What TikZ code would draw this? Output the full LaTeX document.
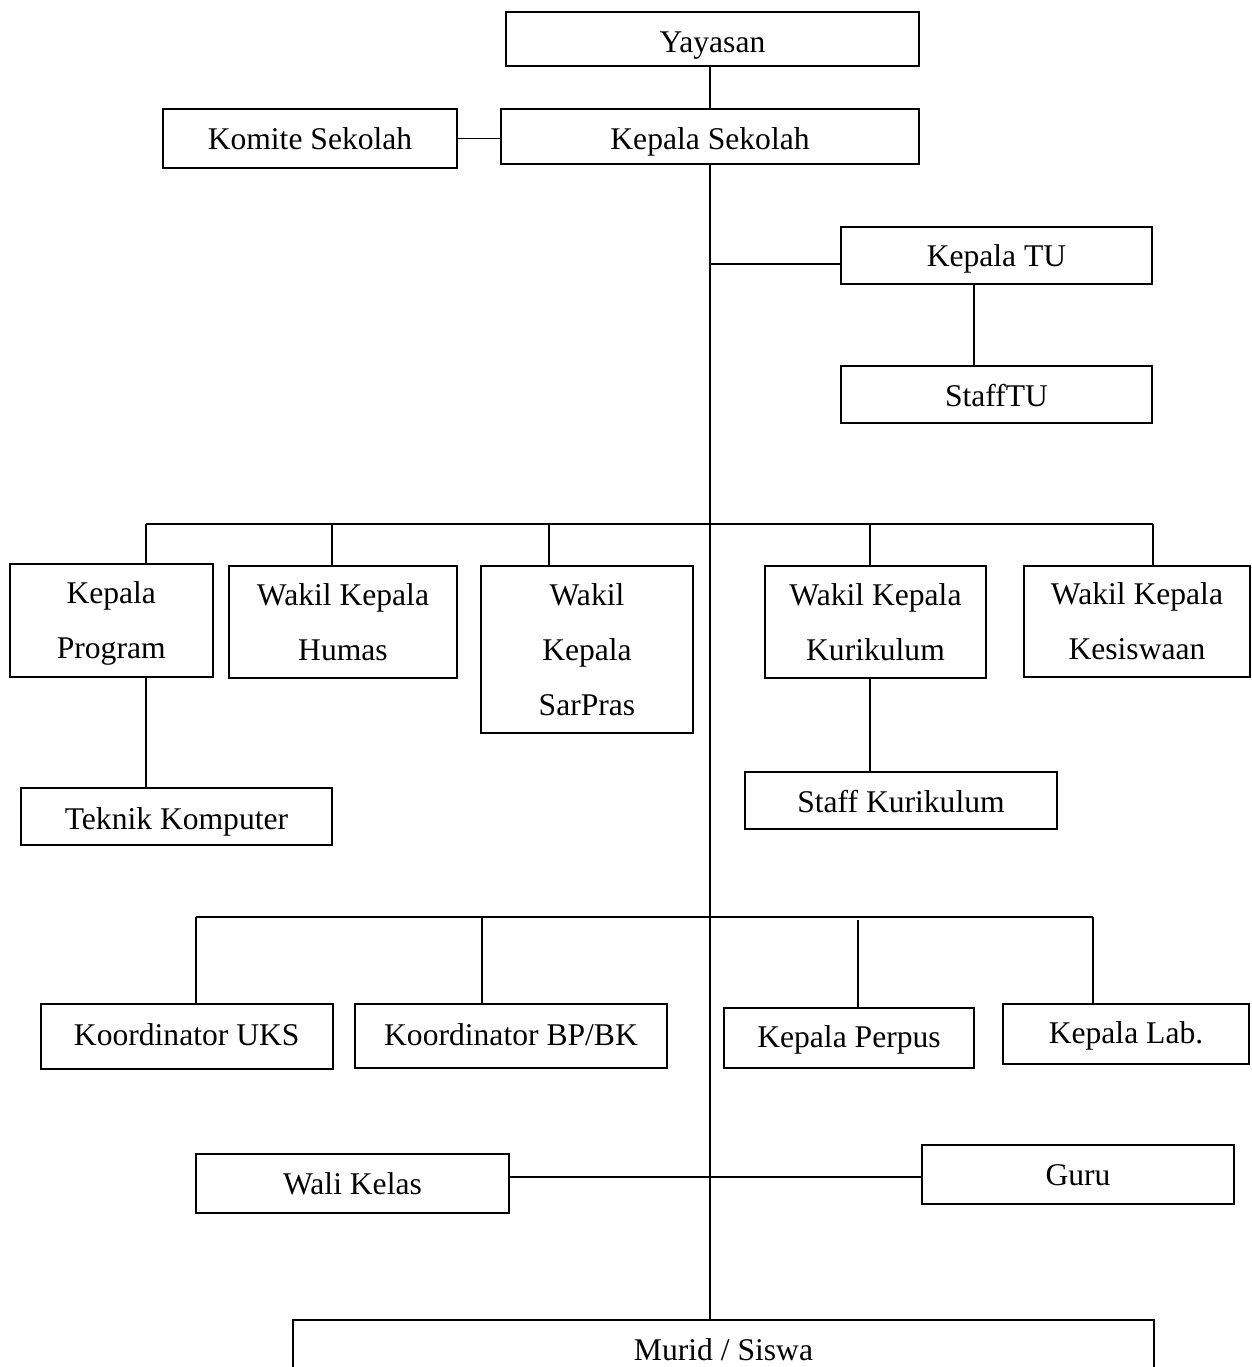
\documentclass[tikz,border=0pt]{standalone}
\usepackage{fontspec}
\setmainfont{Liberation Serif}
\begin{document}
\begin{tikzpicture}[x=1pt,y=-1pt,
  obox/.style={draw,line width=2pt,inner sep=2pt,align=center,font=\fontsize{31.6}{55}\selectfont},
  tline/.style={text height=#1pt,text depth=0pt},
  conn/.style={line width=1.8pt}]
\useasboundingbox (0,0) rectangle (1251,1367);
% top
\node[obox,tline=27,minimum width=413,minimum height=54] (yayasan) at (712.5,39) {Yayasan};
\node[obox,tline=27,minimum width=418,minimum height=55] (kepsek) at (710,136.5) {Kepala Sekolah};
\node[obox,tline=23,minimum width=294,minimum height=59] (komite) at (310,138.5) {Komite Sekolah};
\node[obox,tline=22,minimum width=311,minimum height=57] (ktu) at (996.5,255.5) {Kepala TU};
\node[obox,tline=24,minimum width=311,minimum height=57] (stu) at (996.5,394.5) {StaffTU};
% row 2
\node[obox,minimum width=202.5,minimum height=113] (kprog) at (111.25,620.5) {Kepala\\\smash{Program}};
\node[obox,minimum width=228,minimum height=112] (humas) at (343,622) {Wakil Kepala\\Humas};
\node[obox,minimum width=212,minimum height=167] (sarpras) at (587,649.5) {Wakil\\Kepala\\SarPras};
\node[obox,minimum width=221,minimum height=112] (kurik) at (875.5,622) {Wakil Kepala\\Kurikulum};
\node[obox,minimum width=226,minimum height=111] (kesis) at (1137,621.5) {Wakil Kepala\\Kesiswaan};
\node[obox,tline=26,minimum width=311,minimum height=57] (tk) at (176.5,816.5) {Teknik Komputer};
\node[obox,tline=24,minimum width=312,minimum height=57] (skur) at (901,800.5) {Staff Kurikulum};
% row 3
\node[obox,tline=18,minimum width=291.5,minimum height=65] (uks) at (186.75,1036) {Koordinator UKS};
\node[obox,tline=18,minimum width=312,minimum height=64] (bpbk) at (511,1036) {Koordinator BP/BK};
\node[obox,tline=19,minimum width=250,minimum height=60] (perpus) at (849,1038) {Kepala Perpus};
\node[obox,tline=19,minimum width=246,minimum height=60] (lab) at (1126,1034) {Kepala Lab.};
% row 4
\node[obox,tline=22,minimum width=313,minimum height=59] (wali) at (352.5,1183.5) {Wali Kelas};
\node[obox,tline=22,minimum width=312,minimum height=59] (guru) at (1078,1174) {Guru};
\node[obox,anchor=north,minimum width=861,inner ysep=0pt,text height=40pt,text depth=50pt] (murid) at (723.5,1319) {Murid / Siswa};
% connectors
\draw[conn] (kepsek.north |- yayasan.south) -- (kepsek.north);
\draw[conn] (komite.east) -- (komite.east -| kepsek.west);
\draw[conn] (kepsek.south) -- (kepsek.south |- murid.north);
\coordinate (tuj) at (710,264);
\draw[conn] (tuj) -- (tuj -| ktu.west);
\draw[conn] ([xshift=-22.5pt]ktu.south) -- ([xshift=-22.5pt]ktu.south |- stu.north);
% bus 1
\coordinate (b1a) at (146,524);
\coordinate (b1b) at (332,524);
\coordinate (b1c) at (549,524);
\coordinate (b1d) at (870,524);
\coordinate (b1e) at (1153,524);
\draw[conn] (b1a) -- (b1e);
\draw[conn] (b1a) -- (b1a |- kprog.north);
\draw[conn] (b1b) -- (b1b |- humas.north);
\draw[conn] (b1c) -- (b1c |- sarpras.north);
\draw[conn] (b1d) -- (b1d |- kurik.north);
\draw[conn] (b1e) -- (b1e |- kesis.north);
\draw[conn] (b1a |- kprog.south) -- (b1a |- tk.north);
\draw[conn] (b1d |- kurik.south) -- (b1d |- skur.north);
% bus 2
\coordinate (b2a) at (196,917);
\coordinate (b2b) at (482,917);
\coordinate (b2c) at (858,920);
\coordinate (b2d) at (1093,917);
\draw[conn] (b2a) -- (b2d);
\draw[conn] (b2a) -- (b2a |- uks.north);
\draw[conn] (b2b) -- (b2b |- bpbk.north);
\draw[conn] (b2c) -- (b2c |- perpus.north);
\draw[conn] (b2d) -- (b2d |- lab.north);
% wali - guru
\coordinate (wg) at (710,1177);
\draw[conn] (wg -| wali.east) -- (wg -| guru.west);
\end{tikzpicture}
\end{document}
